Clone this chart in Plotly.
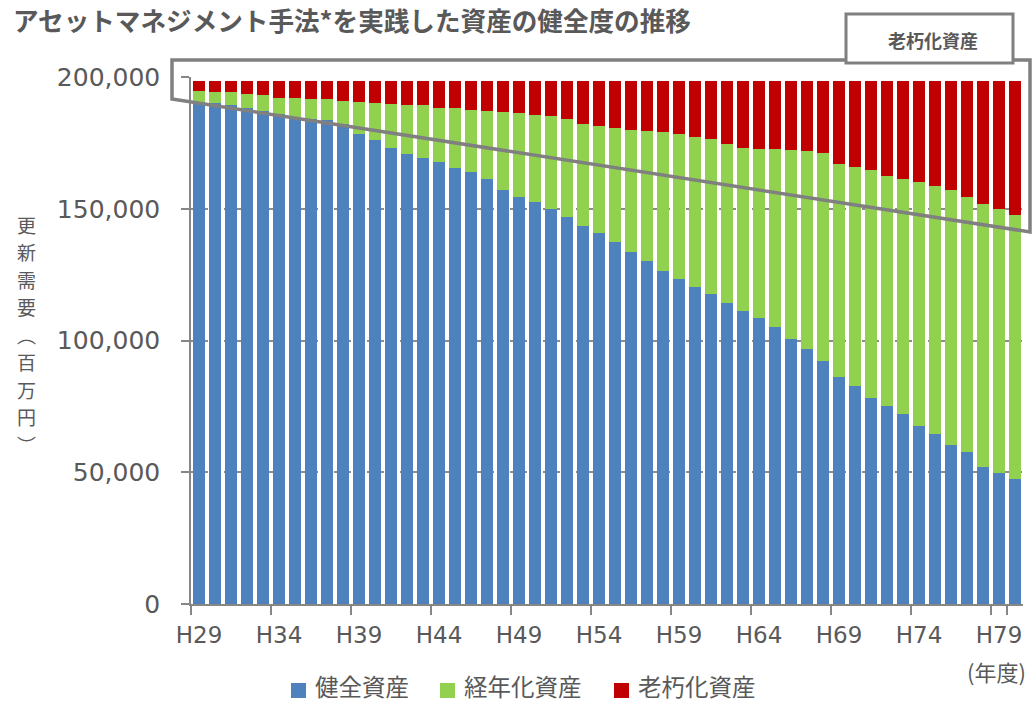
import plotly.graph_objects as go

# ---- data ----
years = ["H29", "H30", "H31", "H32", "H33", "H34", "H35", "H36", "H37", "H38",
         "H39", "H40", "H41", "H42", "H43", "H44", "H45", "H46", "H47", "H48",
         "H49", "H50", "H51", "H52", "H53", "H54", "H55", "H56", "H57", "H58",
         "H59", "H60", "H61", "H62", "H63", "H64", "H65", "H66", "H67", "H68",
         "H69", "H70", "H71", "H72", "H73", "H74", "H75", "H76", "H77", "H78",
         "H79", "H80"]

healthy = [190700, 190130, 189380, 188240, 187100, 185960, 185010, 184180, 183800, 182280,
           178260, 175980, 172940, 170900, 169260, 167630, 165350, 163830, 161180, 157120,
           154580, 152680, 149790, 146980, 143570, 140910, 137380, 133700, 130060, 126260,
           123230, 120190, 117530, 114350, 111310, 108430, 105010, 100690, 96780, 92220,
           86260, 82850, 78290, 75260, 72110, 67440, 64400, 60340, 57800, 52110,
           49600, 47320]

aging = [3990, 4290, 4930, 5190, 6180, 6070, 6910, 7470, 7740, 8730,
         12370, 14150, 16810, 18590, 20120, 20720, 22770, 23760, 25920, 29710,
         31760, 32900, 35300, 36970, 38590, 40420, 43150, 46190, 49330, 52750,
         55140, 56930, 58940, 60110, 61860, 64360, 67480, 71530, 75220, 78940,
         80910, 82880, 86420, 87360, 89370, 92790, 94050, 96590, 96580, 99580,
         100190, 100420]

old = [3910, 4180, 4290, 5170, 5320, 6570, 6680, 6950, 7060, 7590,
       7970, 8470, 8850, 9110, 9220, 10250, 10480, 11010, 11500, 11770,
       12260, 13020, 13510, 14650, 16440, 17270, 18070, 18710, 19210, 19590,
       20230, 21480, 22130, 24140, 25430, 25810, 26110, 26380, 26600, 27440,
       31430, 32870, 33890, 35980, 37120, 38370, 40150, 41670, 44220, 46910,
       48810, 50860]

series_names = ["健全資産", "経年化資産", "老朽化資産"]
x_ticks = ["H29", "H34", "H39", "H44", "H49", "H54", "H59", "H64", "H69", "H74", "H79"]
y_ticks = [0, 50000, 100000, 150000, 200000]

title_text = "アセットマネジメント手法*を実践した資産の健全度の推移"
y_title_chars = ["更", "新", "需", "要", "︵", "百", "万", "円", "︶"]
x_unit = "(年度)"
box_label = "老朽化資産"

# ---- styling ----
colors = ["#4F81BD", "#92D050", "#C00000"]
GRAY_TXT = "#595959"
AX = "#868686"
JP = "Noto Sans CJK JP"
LAT = "DejaVu Sans"

W, H = 1033, 702
# plot area in page pixels
PL, PR, PT, PB = 191, 1023, 77, 604
L, R, T, B = PL, W - PR, PT, H - PB
PW, PH = PR - PL, PB - PT


def px(x):
    return (x - PL) / PW


def py(y):
    return (PB - y) / PH


fig = go.Figure()
for vals, name, col in zip([healthy, aging, old], series_names, colors):
    fig.add_trace(go.Bar(x=years, y=vals, name=name, marker_color=col,
                         marker_line_width=0))

fig.update_layout(
    width=W, height=H,
    margin=dict(l=L, r=R, t=T, b=B, autoexpand=False),
    paper_bgcolor="white", plot_bgcolor="white",
    barmode="stack", bargap=0.31,
    font=dict(family=LAT, color=GRAY_TXT, size=23),
    showlegend=False,
)

fig.update_xaxes(type="category", tickmode="array", tickvals=x_ticks, tickangle=0,
                 tickson="boundaries", ticks="outside", ticklen=9, tickwidth=1.5,
                 tickcolor=AX, showline=True, linecolor=AX, linewidth=1.5,
                 showgrid=False, tickfont=dict(family=LAT, size=23, color=GRAY_TXT),
                 ticklabelstandoff=10)
fig.update_yaxes(range=[0, 200000], tickmode="array", tickvals=y_ticks, tickformat=",d",
                 ticks="outside", ticklen=8, tickwidth=1.5, tickcolor=AX,
                 showline=True, linecolor=AX, linewidth=1.5,
                 showgrid=True, gridcolor="#8C8C8C", gridwidth=1.5, griddash="6px,5px",
                 zeroline=False, tickfont=dict(family=LAT, size=25, color=GRAY_TXT),
                 ticklabelstandoff=16)

# outline highlighting the aging area
fig.add_shape(type="path", xref="paper", yref="paper", layer="above",
              path=f"M{px(172)},{py(60)} L{px(1030)},{py(60)} L{px(1030)},{py(232)} "
                   f"L{px(172)},{py(99)} Z",
              line=dict(color="#808080", width=3.5), fillcolor="rgba(0,0,0,0)")
fig.add_shape(type="rect", xref="paper", yref="paper", layer="above",
              x0=px(846), x1=px(1013), y0=py(63), y1=py(14),
              line=dict(color="#808080", width=3), fillcolor="white")

annotations = [
    dict(text=f"<b>{title_text}</b>", x=px(693), y=py(19.5), xanchor="right",
         yanchor="middle", font=dict(family=JP, size=25.6, color=GRAY_TXT)),
    dict(text=f"<b>{box_label}</b>", x=px(933), y=py(40), xanchor="center", yanchor="middle",
         font=dict(family=JP, size=18, color=GRAY_TXT)),
    dict(text=x_unit, x=px(996), y=py(671), xanchor="center", yanchor="middle",
         font=dict(family=JP, size=22, color=GRAY_TXT)),
]
# vertical y-axis title, one upright character per row
for i, ch in enumerate(y_title_chars):
    annotations.append(dict(text=ch, x=px(26), y=py(224 + 27.5 * i), xanchor="center",
                            yanchor="middle", font=dict(family=JP, size=19, color=GRAY_TXT)))

# legend (swatch + label) placed below the plot
legend_sq_left = [291, 440, 614]
legend_txt_left = [313, 462, 636]
for name, col, sx, tx in zip(series_names, colors, legend_sq_left, legend_txt_left):
    fig.add_shape(type="rect", xref="paper", yref="paper", layer="above",
                  x0=px(sx), x1=px(sx + 15), y0=py(698), y1=py(683),
                  line=dict(width=0), fillcolor=col)
    annotations.append(dict(text=name, x=px(tx), y=py(686), xanchor="left",
                            yanchor="middle",
                            font=dict(family=JP, size=23.5, color=GRAY_TXT)))

for a in annotations:
    a.update(xref="paper", yref="paper", showarrow=False)
fig.update_layout(annotations=annotations)

fig.write_html("out.html", config={"displayModeBar": False},
               post_script="document.body.style.margin='0';document.body.style.overflow='hidden';")
